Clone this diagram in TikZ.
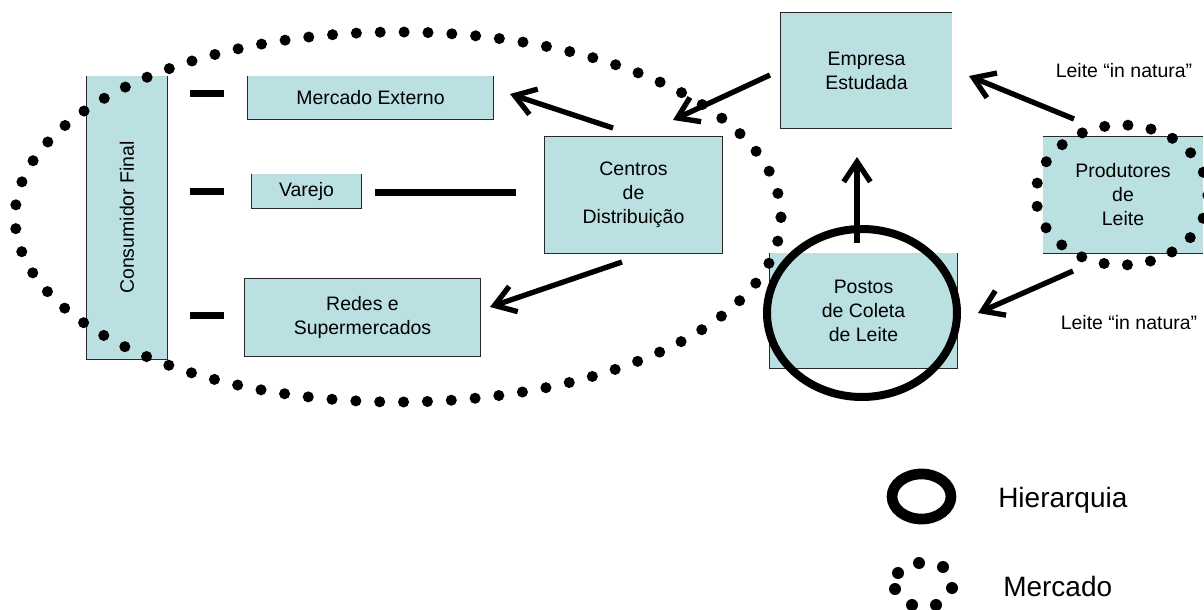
\documentclass[tikz,border=0pt]{standalone}
\usepackage{fontspec}
\setmainfont{Liberation Sans}
\usetikzlibrary{arrows.meta}
\definecolor{boxfill}{RGB}{186,224,226}
\definecolor{boxline}{RGB}{40,40,40}
\begin{document}
\begin{tikzpicture}[x=0.75pt,y=-0.75pt,
  boxnode/.style={fill=boxfill, draw=none, inner sep=0pt, align=center, font=\fontsize{14.6}{18}\selectfont},
  edge/.style={draw=boxline, line width=1.1pt},
  thickarrow/.style={line width=4pt, -{Straight Barb[length=15pt,width=20pt]}},
  dashbar/.style={line width=5.25pt},
  mkt/.style={line width=8.3pt, line cap=round, dash pattern=on 0pt off 17.91pt},
  mktsmall/.style={line width=8.3pt, line cap=round, dash pattern=on 0pt off 17.53pt},
  hier/.style={line width=6pt},
  lbl/.style={font=\fontsize{14.6}{18}\selectfont, inner sep=0pt},
  legendtext/.style={font=\fontsize{21}{25}\selectfont, inner sep=0pt, anchor=base west}]
\useasboundingbox (0,0) rectangle (1204,610);
\clip (0,0) rectangle (1204,610);

% boxes
\node[boxnode, minimum width=60pt, minimum height=212.25pt] (cons) at (127,217.5) {\rotatebox{90}{Consumidor Final}};
\node[boxnode, minimum width=183.75pt, minimum height=32.25pt] (mext) at (370.5,97.5) {Mercado Externo};
\node[boxnode, minimum width=81.75pt, minimum height=25.5pt] (varejo) at (306.5,191) {Varejo};
\node[boxnode, minimum width=176.25pt, minimum height=57.75pt] (redes) at (362.5,317.5) {Redes e\\Supermercados};
\node[boxnode, minimum width=132.75pt, minimum height=87pt] (centros) at (633.5,195) {Centros\\de\\Distribuição};
\node[boxnode, minimum width=128.25pt, minimum height=86.25pt] (empresa) at (866.5,70.5) {Empresa\\Estudada};
\node[boxnode, minimum width=140.25pt, minimum height=86.25pt] (postos) at (863.5,310.5) {Postos\\de Coleta\\de Leite};
\node[boxnode, minimum width=120pt, minimum height=87pt] (prod) at (1123,195) {Produtores\\de\\Leite};

% box outlines (as printed, some sides missing)
\draw[edge] (cons.north west) -- (cons.south west) -- (cons.south east) -- (cons.north east);
\draw[edge] (mext.north west) -- (mext.south west) -- (mext.south east) -- (mext.north east);
\draw[edge] (varejo.north west) -- (varejo.south west) -- (varejo.south east) -- (varejo.north east);
\draw[edge] (redes.north west) rectangle (redes.south east);
\draw[edge] (centros.north west) rectangle (centros.south east);
\draw[edge] (empresa.north east) -- (empresa.north west) -- (empresa.south west) -- (empresa.south east);
\draw[edge] (postos.north west) -- (postos.south west) -- (postos.south east) -- (postos.north east);
\draw[edge] (prod.north west) -- (prod.north east);
\draw[edge] (prod.south west) -- (prod.south east);

% short bars
\coordinate (b1a) at (190,94);  \coordinate (b1b) at (224,94);
\coordinate (b2a) at (190,191); \coordinate (b2b) at (224,191);
\coordinate (b3a) at (190,315); \coordinate (b3b) at (224,315);
\coordinate (va) at (375,192);  \coordinate (vb) at (516,192);
\draw[dashbar] (b1a) -- (b1b);
\draw[dashbar] (b2a) -- (b2b);
\draw[dashbar] (b3a) -- (b3b);
\draw[dashbar] (va) -- (vb);

% labels
\node[lbl] (l1) at (1124,71) {Leite “in natura”};
\node[lbl] (l2) at (1129,323) {Leite “in natura”};

% market ellipses
\node[inner sep=0pt] (mktc) at (398,217) {};
\draw[mkt] (mktc) ellipse [x radius=287.25pt, y radius=138.75pt];
\node[inner sep=0pt] (prodc) at (1122,195) {};
\draw[mktsmall] (prodc) ellipse [x radius=64.5pt, y radius=52.5pt];

% hierarchy ellipse
\node[inner sep=0pt] (hierc) at (862,313) {};
\draw[hier] (hierc) ellipse [x radius=71.25pt, y radius=63pt];

% arrows
\coordinate (a1s) at (613,128); \coordinate (a1e) at (510,94);
\coordinate (a2s) at (622,262); \coordinate (a2e) at (490,307);
\coordinate (a3s) at (770,75);  \coordinate (a3e) at (673,120);
\coordinate (a4s) at (857,243); \coordinate (a4e) at (857,157);
\coordinate (a5s) at (1074,119); \coordinate (a5e) at (969,76);
\coordinate (a6s) at (1073,271); \coordinate (a6e) at (978,313);
\draw[thickarrow] (a1s) -- (a1e);
\draw[thickarrow] (a2s) -- (a2e);
\draw[thickarrow] (a3s) -- (a3e);
\draw[thickarrow] (a4s) -- (a4e);
\draw[thickarrow] (a5s) -- (a5e);
\draw[thickarrow] (a6s) -- (a6e);

% legend
\node[inner sep=0pt] (lgh) at (921.5,496.5) {};
\draw[line width=8pt] (lgh) ellipse [x radius=22.1pt, y radius=16.9pt];
\node[legendtext] (hiertxt) at (998,507) {Hierarquia};
\foreach \px/\py in {919/563, 943/567, 898/573, 952/588, 895/589, 912/605, 936/605}
  \fill (\px,\py) circle [radius=4.5pt];
\node[legendtext] (mkttxt) at (1003,596) {Mercado};
\end{tikzpicture}
\end{document}
